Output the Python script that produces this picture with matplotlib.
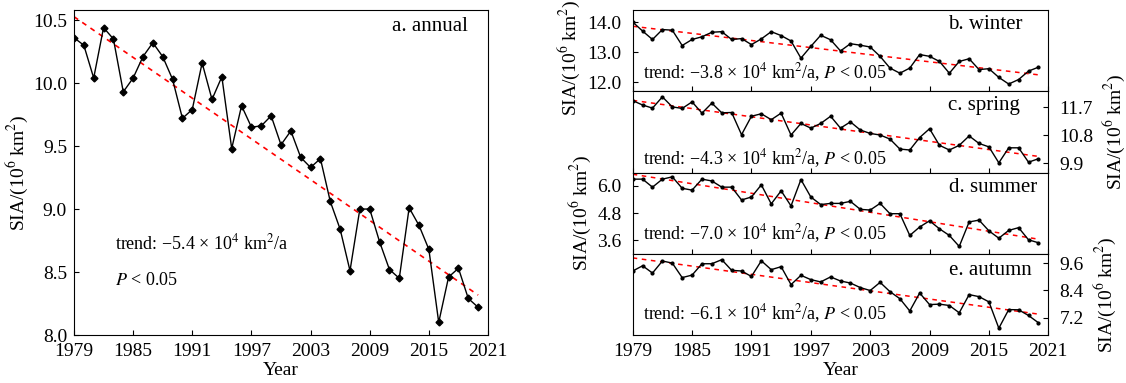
import matplotlib
matplotlib.use('Agg')
import matplotlib.pyplot as plt
import numpy as np

plt.rcParams['font.family'] = 'Liberation Serif'
plt.rcParams['mathtext.fontset'] = 'stix'

years = list(range(1979, 2021))

# sea ice area, 10^6 km2
annual = [10.36, 10.30, 10.04, 10.44, 10.35, 9.93, 10.04, 10.21, 10.32, 10.21,
          10.03, 9.72, 9.79, 10.16, 9.87, 10.05, 9.48, 9.82, 9.65, 9.66,
          9.74, 9.51, 9.62, 9.41, 9.33, 9.40, 9.06, 8.84, 8.51, 9.00,
          9.00, 8.74, 8.52, 8.45, 9.01, 8.87, 8.68, 8.10, 8.46, 8.53,
          8.29, 8.22]
winter = [14.00, 13.70, 13.42, 13.75, 13.73, 13.22, 13.42, 13.51, 13.66, 13.68,
          13.42, 13.45, 13.25, 13.44, 13.68, 13.55, 13.37, 12.80, 13.19, 13.56,
          13.41, 13.04, 13.28, 13.23, 13.17, 12.86, 12.47, 12.30, 12.47, 12.92,
          12.86, 12.69, 12.30, 12.69, 12.78, 12.42, 12.45, 12.16, 11.94, 12.09,
          12.37, 12.50]
spring = [11.91, 11.77, 11.67, 12.03, 11.71, 11.66, 11.87, 11.51, 11.83, 11.52,
          11.53, 10.82, 11.41, 11.49, 11.30, 11.51, 10.81, 11.18, 11.03, 11.18,
          11.41, 11.03, 11.23, 10.97, 10.86, 10.81, 10.68, 10.36, 10.33, 10.73,
          11.01, 10.48, 10.33, 10.48, 10.78, 10.54, 10.43, 9.92, 10.40, 10.40,
          9.94, 10.05]
summer = [6.28, 6.28, 5.93, 6.28, 6.38, 5.88, 5.80, 6.28, 6.20, 5.93,
          5.93, 5.37, 5.50, 6.03, 5.20, 5.77, 5.11, 6.26, 5.50, 5.17,
          5.22, 5.22, 5.31, 4.96, 4.93, 5.22, 4.77, 4.77, 3.82, 4.19,
          4.46, 4.11, 3.82, 3.34, 4.41, 4.49, 4.02, 3.70, 4.04, 4.16,
          3.63, 3.50]
autumn = [9.25, 9.48, 9.16, 9.69, 9.60, 8.96, 9.07, 9.57, 9.57, 9.75,
          9.28, 9.25, 9.01, 9.70, 9.31, 9.44, 8.65, 9.06, 8.87, 8.77,
          8.99, 8.81, 8.72, 8.52, 8.39, 8.75, 8.34, 8.03, 7.49, 8.28,
          7.77, 7.79, 7.73, 7.41, 8.21, 8.12, 7.89, 6.73, 7.55, 7.54,
          7.29, 6.97]

xticks = [1979, 1985, 1991, 1997, 2003, 2009, 2015, 2021]
ylab = 'SIA/(10$^6$ km$^2$)'

fig = plt.figure(figsize=(11.26, 3.83), dpi=100)

# a. annual
ax = fig.add_axes([0.0657, 0.1253, 0.3677, 0.8486])
coef = np.polyfit(years, annual, 1)
fit = np.poly1d(coef)
ax.plot(years, fit(years), '--', color='red', lw=1.2, dashes=(3, 3))
ax.plot(years, annual, '-', color='black', lw=1, marker='D', ms=3.5)
ax.set_xlim(1979, 2021)
ax.set_ylim(8.0, 10.58)
ax.set_xticks(xticks)
ax.set_yticks([8.0, 8.5, 9.0, 9.5, 10.0, 10.5])
ax.yaxis.set_major_formatter(matplotlib.ticker.FormatStrFormatter('%.1f'))
ax.tick_params(direction='in', labelsize=14)
ax.tick_params(axis='y', pad=5)
ax.tick_params(axis='x', pad=6)
ax.set_xlabel('Year', fontsize=14, labelpad=1)
ax.set_ylabel(ylab, fontsize=14, labelpad=2)
ax.text(0.952, 0.949, 'a. annual', transform=ax.transAxes, ha='right', va='center', fontsize=15)
ax.text(0.099, 0.283, 'trend: \u22125.4 \u00d7 10$^4$ km$^2$/a', transform=ax.transAxes,
        va='center', fontsize=13)
ax.text(0.099, 0.169, '$P$ < 0.05', transform=ax.transAxes, va='center', fontsize=13)

# seasonal panels
seasons = [winter, spring, summer, autumn]
titles = ['b. winter', 'c. spring', 'd. summer', 'e. autumn']
trends = ['\u22123.8', '\u22124.3', '\u22127.0', '\u22126.1']
ylims = [(11.7, 14.4), (9.61, 12.21), (3.02, 6.57), (6.43, 10.01)]
yticks = [[12.0, 13.0, 14.0], [9.9, 10.8, 11.7], [3.6, 4.8, 6.0], [7.2, 8.4, 9.6]]
title_pos = [(0.939, 0.826), (0.932, 0.83), (0.973, 0.82), (0.96, 0.80)]
trend_y = [0.235, 0.175, 0.247, 0.266]

h = (0.9739 - 0.1253) / 4
for i in range(4):
    bottom = 0.1253 + (3 - i) * h
    ax = fig.add_axes([0.5619, bottom, 0.3691, h])
    coef = np.polyfit(years, seasons[i], 1)
    fit = np.poly1d(coef)
    ax.plot(years, fit(years), '--', color='red', lw=1.1, dashes=(3, 3))
    ax.plot(years, seasons[i], '-', color='black', lw=1, marker='o', ms=2)
    ax.set_xlim(1979, 2021)
    ax.set_ylim(ylims[i])
    ax.set_xticks(xticks)
    ax.set_yticks(yticks[i])
    ax.yaxis.set_major_formatter(matplotlib.ticker.FormatStrFormatter('%.1f'))
    ax.tick_params(direction='in', labelsize=14)
    ax.tick_params(axis='y', pad=8)
    ax.tick_params(axis='x', pad=6)
    if i % 2 == 1:
        ax.yaxis.tick_right()
        ax.yaxis.set_label_position('right')
        ax.set_ylabel(ylab, fontsize=14, labelpad=6)
    else:
        ax.set_ylabel(ylab, fontsize=14, labelpad=3)
    if i == 0:
        # keep the top label inside the figure
        ax.yaxis.set_label_coords(-0.122, 0.41)
    if i < 3:
        ax.tick_params(labelbottom=False)
    else:
        ax.set_xlabel('Year', fontsize=14, labelpad=1)
    ax.text(title_pos[i][0], title_pos[i][1], titles[i], transform=ax.transAxes,
            ha='right', va='center', fontsize=15)
    ax.text(0.025, trend_y[i], 'trend: ' + trends[i] + ' \u00d7 10$^4$ km$^2$/a, $P$ < 0.05',
            transform=ax.transAxes, va='center', fontsize=13)

fig.savefig('out.png', dpi=100)
